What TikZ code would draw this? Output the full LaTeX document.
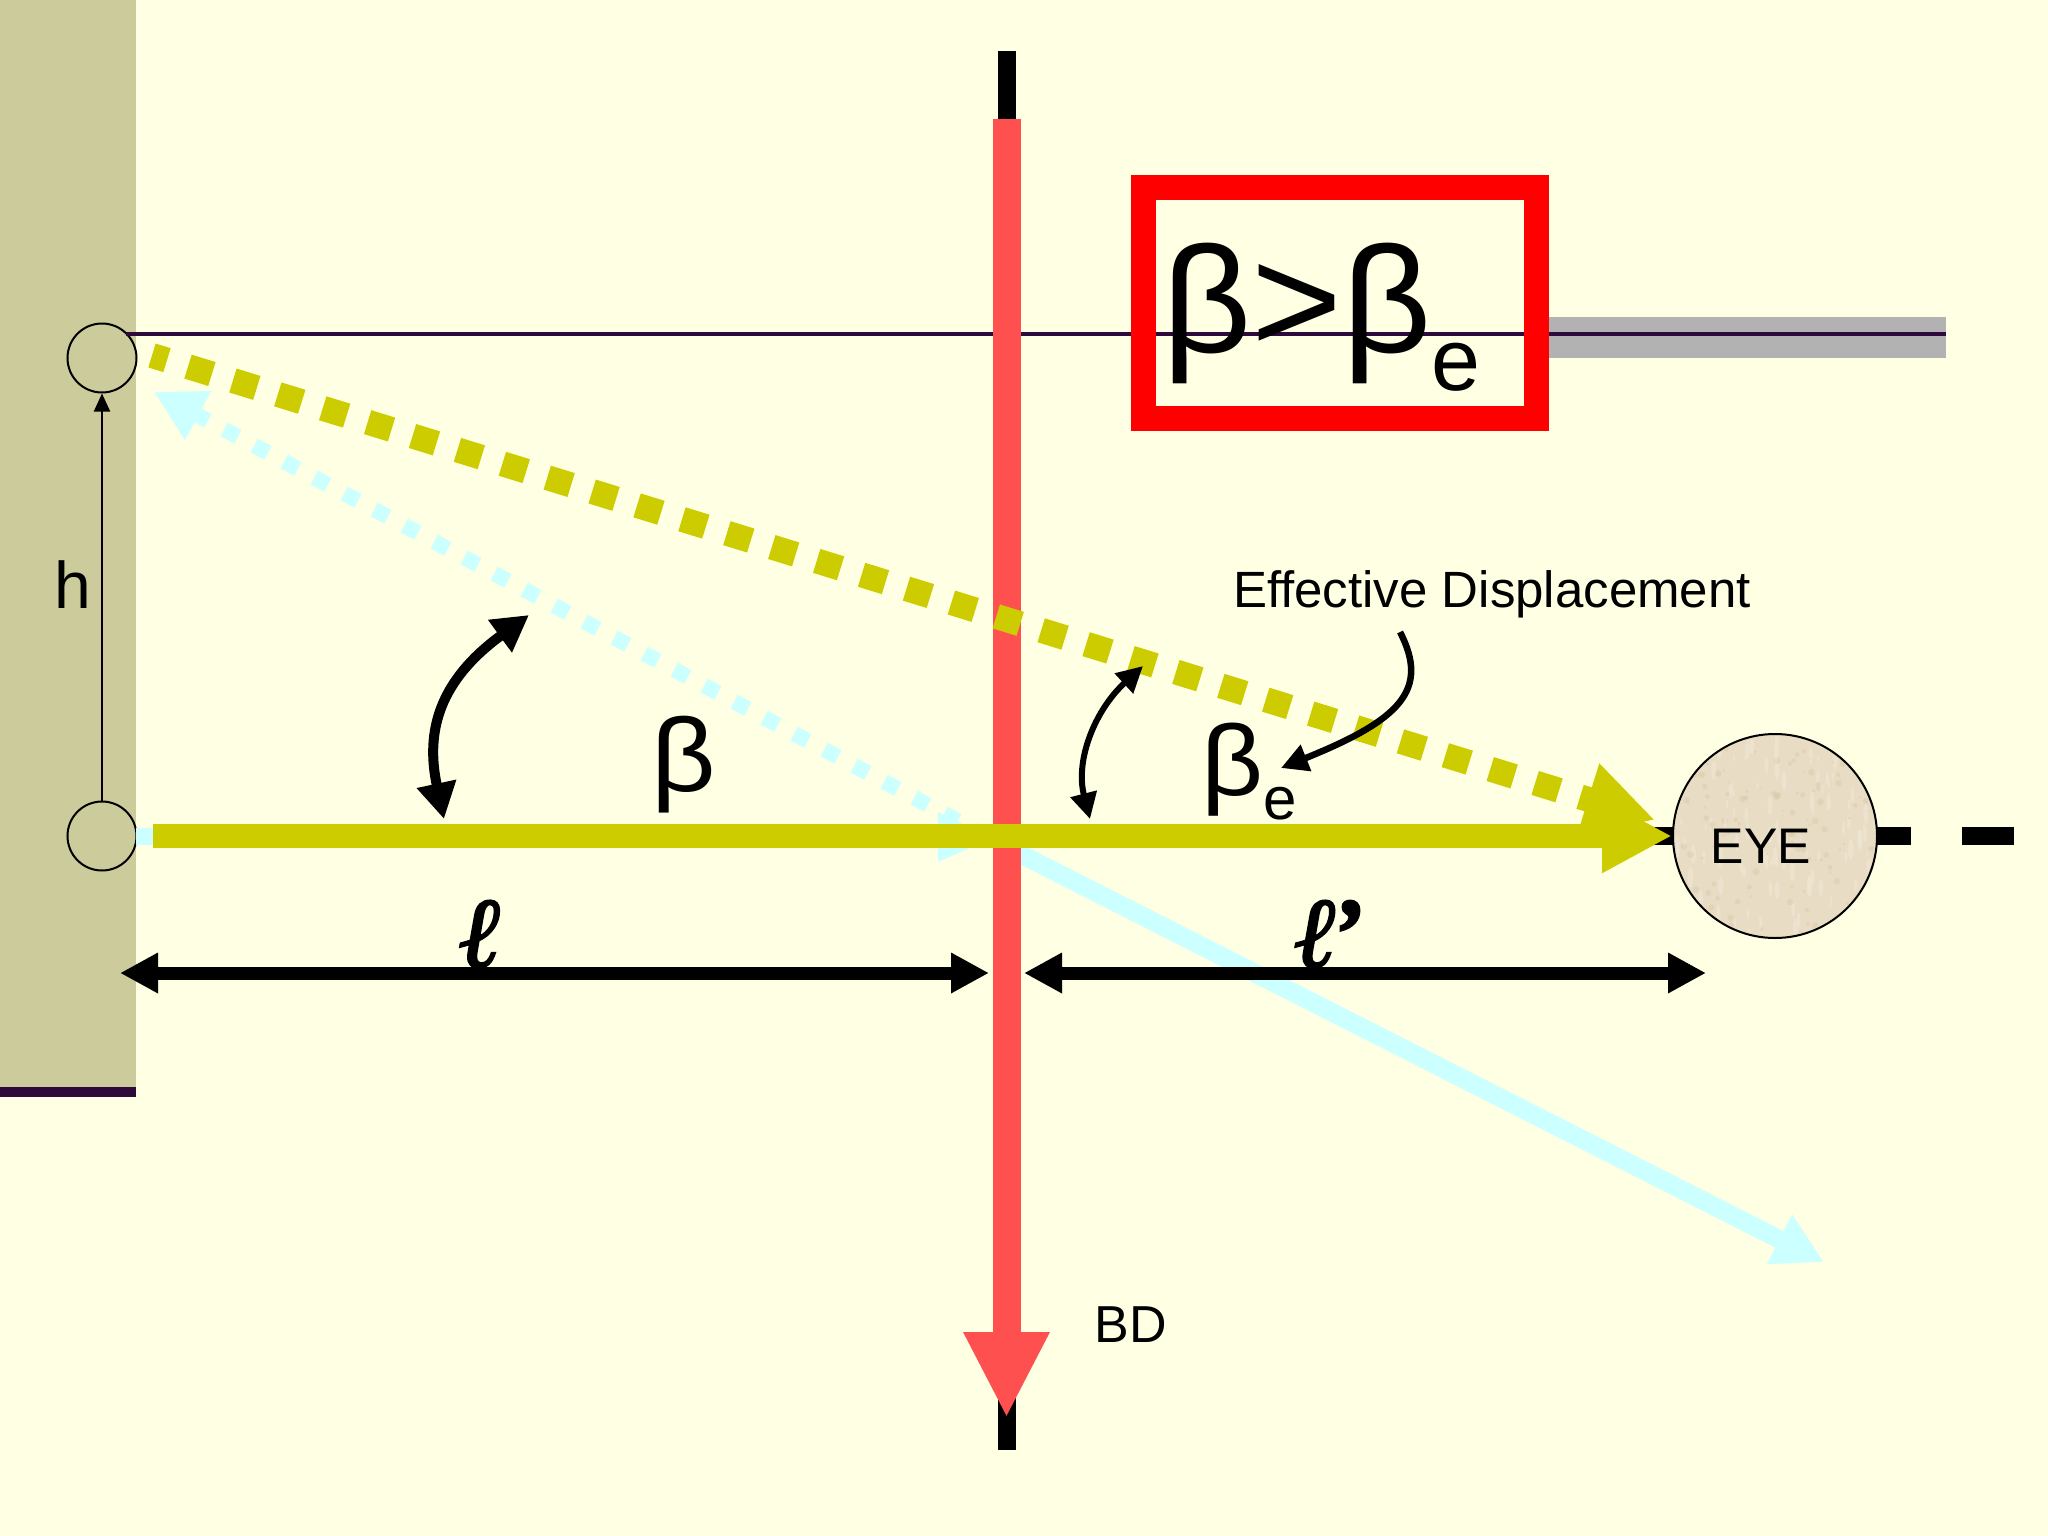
\documentclass[tikz,border=0pt]{standalone}
\usepackage{fontspec}
\usepackage{graphicx}
\setmainfont{Liberation Sans}
\newfontfamily\elfont[FakeBold=2]{Liberation Serif Bold Italic}
\usetikzlibrary{arrows.meta}
\definecolor{bgc}{HTML}{FEFFE3}
\definecolor{wallc}{HTML}{CBCB9B}
\definecolor{yel}{HTML}{CCCC00}
\definecolor{cya}{HTML}{CCFFFF}
\definecolor{redl}{HTML}{FF5050}
\definecolor{pur}{HTML}{2E0A3C}
\definecolor{gry}{HTML}{B2B2B2}
\definecolor{eyec}{HTML}{E8DCC4}
\definecolor{speck}{HTML}{D2C098}
\definecolor{specl}{HTML}{F1E8D6}
\newcommand{\px}[1]{\fontsize{#1}{#1}\selectfont}
\tikzset{
  hinge/.style={circle,draw=black,line width=2pt,minimum size=69pt,inner sep=0pt},
  dim/.style={line width=13pt,{Triangle[length=38pt,width=38pt]}-{Triangle[length=38pt,width=38pt]}},
  curve/.style={line width=10pt,{Triangle[length=36pt,width=38pt]}-{Triangle[length=36pt,width=38pt]}},
  curvesmall/.style={line width=6pt,{Triangle[length=26pt,width=26pt]}-{Triangle[length=26pt,width=26pt]}},
  lab/.style={inner sep=0pt,anchor=base}
}
\begin{document}
\begin{tikzpicture}[x=1pt,y=-1pt]
\useasboundingbox (0,0) rectangle (2048,1536);
\fill[bgc] (0,0) rectangle (2048,1536);
\fill[wallc] (0,0) rectangle (136,1087);
\fill[pur] (0,1087) rectangle (136,1097);
\fill[gry] (1548,317) rectangle (1946,358);
\node[hinge] (top) at (102,358) {};
\node[hinge] (low) at (102,836) {};
\coordinate (pl) at (126,334); \coordinate (pr) at (1946,334);
\coordinate (bt) at (1006.5,51); \coordinate (bb) at (1006.5,1450);
\coordinate (rt) at (1006.5,119); \coordinate (rb) at (1006.5,1418);
\coordinate (x) at (1006.5,847); \coordinate (cyt) at (154,392); \coordinate (cyb) at (1824,1262);
\coordinate (cys) at (136,836); \coordinate (cye) at (153,836);
\coordinate (ax) at (1650,836); \coordinate (axe) at (2014,836);
\coordinate (yds) at (152,355.5); \coordinate (ydt) at (1655,820);
\coordinate (yms) at (153,836);
\draw[pur,line width=3.5pt] (pl) -- (pr);
\draw[black,line width=18pt] (bt) -- (bb);
\draw[black,line width=18pt,dash pattern=on 261pt off 51pt] (ax) -- (axe);
\draw[cya,line width=17pt] (cys) -- (cye);
\fill[cya] (938,812) -- (938,862) -- (992,838) -- cycle;
\draw[cya,line width=18.5pt,-{Triangle[length=50pt,width=52pt]}] (x) -- (cyb);
\draw[cya,line width=15.5pt,dash pattern=on 15.5pt off 18.5pt,dash phase=12.75pt,-{Triangle[length=50pt,width=52pt]}] (x) -- (cyt);
\draw[redl,line width=28pt,-{Triangle[length=86pt,width=80pt]}] (rt) -- (rb);
\draw[yel,line width=25pt,dash pattern=on 25pt off 22pt,dash phase=9.3pt,-{Triangle[length=70pt,width=70pt]}] (yds) -- (ydt);
\node[circle,draw=black,line width=2pt,fill=eyec,minimum size=204pt,inner sep=0pt] (eye) at (1775,836) {};
\begin{scope}
\clip (1775,836) circle (100);
\pgfmathsetseed{41}
\foreach \i in {1,...,260}{
  \pgfmathsetmacro{\ex}{1675+200*rnd}
  \pgfmathsetmacro{\ey}{736+200*rnd}
  \pgfmathsetmacro{\er}{1+2.5*rnd}
  \pgfmathtruncatemacro{\es}{mod(\i,2)}
  \ifnum\es=0 \fill[speck,opacity=.3] (\ex,\ey) circle (\er);
  \else \fill[specl,opacity=.5] (\ex,\ey) ellipse (\er*0.8 and \er*3);\fi
}
\end{scope}
\draw[yel,line width=24pt,-{Triangle[length=70pt,width=69pt]}] (yms) -- (eye.west);
\node[lab,font=\px{50}] (eyet) at (1761,863) {EYE};
\draw[black,line width=2pt,-{Triangle[length=18pt,width=16pt]}] (low.north) -- (top.south);
\draw[dim] (120,973) -- (989,973);
\draw[dim] (1024,973) -- (1706,973);
\draw[curve] (444,819) .. controls (425,730) and (440,680) .. (529,615);
\draw[curvesmall] (1090,819) .. controls (1075,760) and (1095,710) .. (1143,666);
\draw[black,line width=6.5pt,-{Triangle[length=27pt,width=27pt]}] (1400,632) .. controls (1430,690) and (1400,720) .. (1281,768);
\node[draw=red,line width=25pt,minimum width=392.5pt,minimum height=231pt,inner sep=0pt] (box) at (1339.75,303) {};
\node[lab,anchor=base west,font=\px{151}] (be) at (1162,352) {\scalebox{1.03}[1]{β>β}\raisebox{-38pt}{\px{88}e}};
\node[lab,font=\px{104}] (beta) at (684,791) {\scalebox{1.08}[1]{β}};
\node[lab,anchor=base west,font=\px{100}] (bee) at (1201,795) {\scalebox{1.08}[1]{β}\raisebox{-24pt}{\px{60}e}};
\node[lab,font=\px{66}] (h) at (73,608) {h};
\node[lab,font=\px{51}] (eff) at (1492,607) {Effective Displacement};
\node[lab,font=\px{52}] (bd) at (1131,1342) {BD};
\node[lab,font={\elfont\px{100}}] (el) at (481,967) {ℓ};
\node[lab,font={\elfont\px{100}}] (elp) at (1329,967) {ℓ\kern-8pt’};
\end{tikzpicture}
\end{document}
